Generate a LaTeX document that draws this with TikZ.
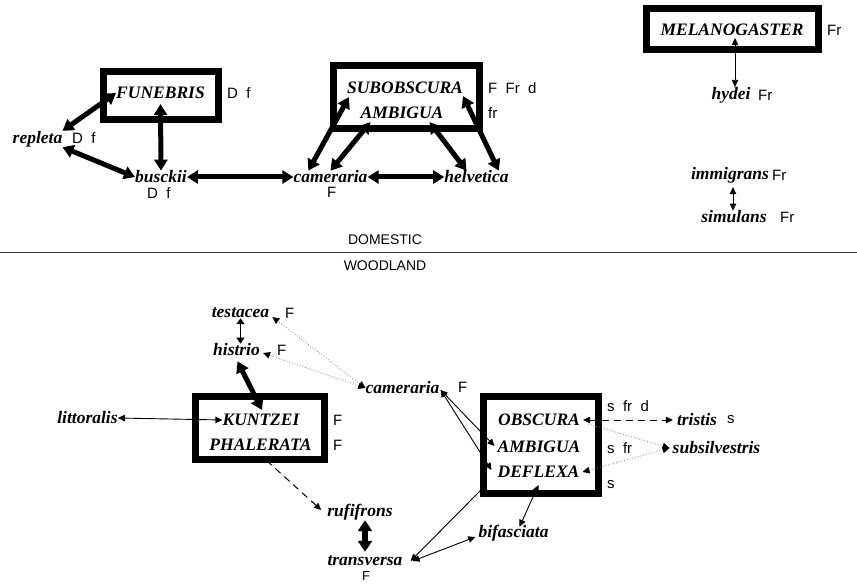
\documentclass[tikz,border=0pt]{standalone}
\usepackage{fontspec}
\setmainfont{Liberation Serif}
\newfontfamily\labfam{Liberation Sans}
\usetikzlibrary{arrows.meta}
\tikzset{
  tp/.tip={Triangle[length=7pt,width=6.5pt]},
  dtp/.tip={Triangle[length=7pt,width=6.5pt,color=black]},
  TP/.tip={Triangle[length=11pt,width=13pt]},
  sp/.style={font=\fontsize{17.5}{17.5}\selectfont\bfseries\itshape, inner sep=0pt},
  lab/.style={font=\fontsize{15}{15}\selectfont\labfam, inner sep=0pt, anchor=west},
  hdr/.style={font=\fontsize{14}{14}\selectfont\labfam, inner sep=0pt},
  bx/.style={draw, line width=7pt, inner sep=0pt},
  thk/.style={line width=5pt, TP-TP},
  thkk/.style={line width=6.5pt, {Triangle[length=11pt,width=14pt]}-{Triangle[length=11pt,width=14pt]}},
  thn/.style={line width=0.9pt, tp-tp},
  thm/.style={line width=1.5pt, {Triangle[length=6pt,width=8pt]}-{Triangle[length=6pt,width=8pt]}},
  dot/.style={line width=0.8pt, black!50, dotted},
  dsh/.style={line width=1pt, dash pattern=on 7pt off 5pt},
}
\begin{document}
\begin{tikzpicture}[x=1pt,y=-1pt]
\useasboundingbox (0,0) rectangle (857,585);

% ---------- boxes ----------
\node[bx, minimum width=115, minimum height=48] (fbox) at (161,95.5) {};
\node[bx, minimum width=146, minimum height=63] (sbox) at (406.5,97) {};
\node[bx, minimum width=172, minimum height=41] (mbox) at (732.5,29) {};
\node[bx, minimum width=129, minimum height=63] (kbox) at (260,428) {};
\node[bx, minimum width=115, minimum height=97] (obox) at (541,445) {};

% ---------- domestic species ----------
\node[sp] (funebris) at (160.5,93) {FUNEBRIS};
\node[sp] (repleta) at (37.5,139) {repleta};
\node[sp] (busckii) at (161,177) {busckii};
\node[sp] (camT) at (330.5,177) {cameraria};
\node[sp] (helvetica) at (476.5,177) {helvetica};
\node[sp] (subobscura) at (405,88) {SUBOBSCURA};
\node[sp] (ambiguaT) at (402,113) {AMBIGUA};
\node[sp] (melanogaster) at (732,30) {MELANOGASTER};
\node[sp] (hydei) at (731,95) {hydei};
\node[sp] (immigrans) at (730,175) {immigrans};
\node[sp] (simulans) at (734,217) {simulans};

% labels
\node[lab] (funDf) at (227,93) {D~~f};
\node[lab] (repDf) at (72,138) {D~~f};
\node[lab] (busDf) at (147,193) {D~~f};
\node[lab] (camTF) at (327,192) {F};
\node[lab] (subL) at (488,88) {F~~Fr~~d};
\node[lab] (ambL) at (488,113) {fr};
\node[lab] (melL) at (827,30) {Fr};
\node[lab] (hydL) at (758,95) {Fr};
\node[lab] (immL) at (772,175) {Fr};
\node[lab] (simL) at (780,217) {Fr};

% ---------- divider ----------
\draw[line width=0.8pt, black!80] (0,252) -- (857,252);
\node[hdr] (dom) at (385,240) {DOMESTIC};
\node[hdr] (wood) at (385,266) {WOODLAND};

% ---------- woodland species ----------
\node[sp] (testacea) at (240.5,313) {testacea};
\node[sp] (histrio) at (236.5,350) {histrio};
\node[sp] (camW) at (402.5,388) {cameraria};
\node[sp] (littoralis) at (87.5,418) {littoralis};
\node[sp] (kuntzei) at (261,420) {KUNTZEI};
\node[sp] (phalerata) at (260.5,445) {PHALERATA};
\node[sp] (obscura) at (539,420) {OBSCURA};
\node[sp] (ambiguaB) at (539,447) {AMBIGUA};
\node[sp] (deflexa) at (538.5,472) {DEFLEXA};
\node[sp] (tristis) at (697,420) {tristis};
\node[sp] (subsilvestris) at (716.5,448) {subsilvestris};
\node[sp] (rufifrons) at (360,512) {rufifrons};
\node[sp] (transversa) at (365,561) {transversa};
\node[sp] (bifasciata) at (513.5,533) {bifasciata};

% labels
\node[lab] (tesF) at (285,313) {F};
\node[lab] (hisF) at (277,350) {F};
\node[lab] (camWF) at (458,387) {F};
\node[lab] (kunF) at (333,420) {F};
\node[lab] (phaF) at (333,445) {F};
\node[lab] (obsL) at (607,406) {s~~fr~~d};
\node[lab] (triL) at (727,420) {s};
\node[lab] (ambL2) at (607,448) {s~~fr};
\node[lab] (defL) at (607,485) {s};
\node[lab, font=\fontsize{13}{13}\selectfont\labfam] (traF) at (362,576) {F};

% ---------- domestic connectors ----------
\draw[thk] (funebris.west) -- (repleta.north east);
\draw[thk] (repleta.south east) -- (busckii.west);
\draw[thk] ([shift={(0,5)}]funebris.south) -- (busckii.north);
\draw[thk] (busckii.east) -- (camT.west);
\draw[thk] (camT.east) -- (helvetica.west);
\draw[thk] ([xshift=15pt]camT.north west) -- ([shift={(2,3)}]subobscura.south west);
\draw[thk] (camT.north) -- ([shift={(10,3)}]ambiguaT.south west);
\draw[thk] ([shift={(-14,3)}]ambiguaT.south east) -- ([xshift=-10pt]helvetica.north);
\draw[thk] ([shift={(0,2)}]subobscura.south east) -- ([xshift=-10pt]helvetica.north east);
\draw[thn] ([shift={(3,2)}]melanogaster.south) -- ([xshift=3pt]melanogaster.south |- hydei.north);
\draw[thn] ([shift={(3,4)}]immigrans.south) -- ([xshift=3pt]immigrans.south |- simulans.north);

% ---------- woodland connectors ----------
\draw[thm] (testacea.south) -- (testacea.south |- histrio.north);
\draw[thk] ([shift={(1,5)}]histrio.south) -- ([shift={(1,-4)}]kuntzei.north);
\draw[dot, dtp-dtp] (camW.west) -- ([shift={(3,4)}]testacea.east);
\draw[dot, dtp-dtp] (camW.west) -- ([shift={(3,3)}]histrio.east);
\draw[thn] (littoralis.east) -- (kuntzei.west);
\draw[dsh, tp-tp] ([shift={(1,5)}]phalerata.south) -- ([shift={(-6,-2)}]rufifrons.west);
\draw[thkk] ([xshift=5pt]rufifrons.south) -- ([shift={(0,-4)}]transversa.north);
\draw[line width=0.9pt, tp-] ([shift={(8,0)}]transversa.east) -- ([shift={(0,-6)}]obox.south west);
\draw[thn] ([shift={(10,0)}]transversa.east) -- ([shift={(-3,4)}]bifasciata.west);
\draw[thn] ([shift={(6,2)}]bifasciata.north) -- ([shift={(0,7)}]deflexa.south);
\draw[thn] ([shift={(1,2)}]camW.east) -- ([shift={(-3,-1)}]ambiguaB.west);
\draw[thn] ([shift={(1,2)}]camW.east) -- ([shift={(-6,-2)}]deflexa.west);
\draw[dsh, tp-tp] ([xshift=3pt]obscura.east) -- ([xshift=-4pt]tristis.west);
\draw[dot, -dtp] ([shift={(8,4)}]obscura.east) -- ([xshift=-3pt]subsilvestris.west);
\draw[dot, dtp-dtp] ([xshift=3pt]deflexa.east) -- ([xshift=-3pt]subsilvestris.west);
\end{tikzpicture}
\end{document}
